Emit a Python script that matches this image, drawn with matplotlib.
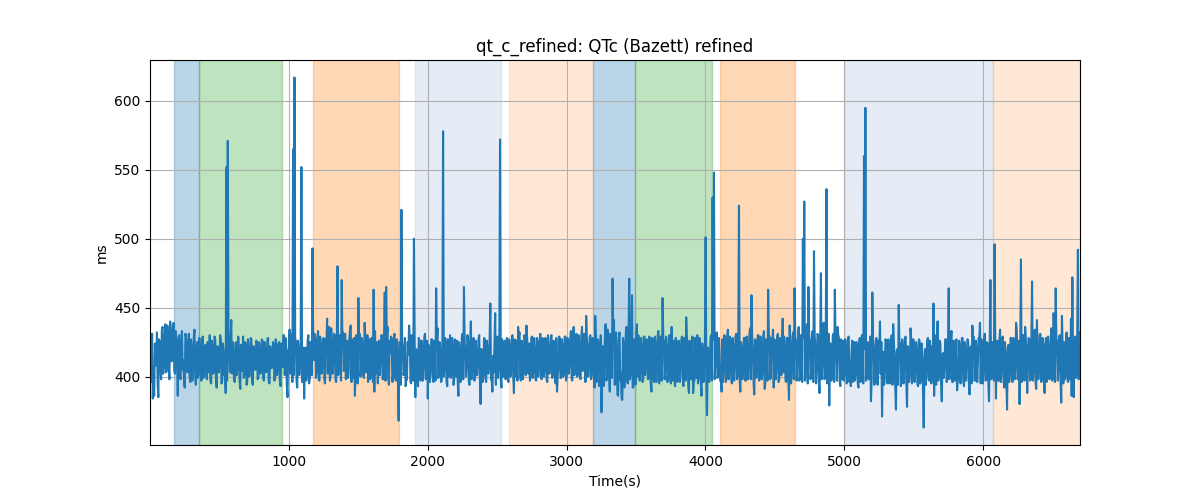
import numpy as np
import matplotlib
matplotlib.use("Agg")
import matplotlib.pyplot as plt

# QTc values (ms), first sample of each 10 s window (t = 1, 11, 21, ... s)
qtc_a_rows = [
    [420, 396, 428, 386, 415, 432, 401, 425, 398, 436, 410, 438, 404, 430, 398, 434, 412, 439, 402, 426],
    [405, 430, 398, 433, 412, 392, 428, 403, 431, 396, 420, 409, 434, 394, 425, 401, 418, 397, 429, 406],
    [423, 398, 416, 430, 395, 421, 404, 427, 392, 418, 408, 426, 397, 419, 405, 424, 393, 415, 428, 402],
    [417, 396, 425, 407, 420, 391, 414, 429, 402, 422, 396, 418, 410, 427, 394, 416, 405, 424, 399, 420],
    [408, 426, 397, 419, 404, 428, 395, 417, 409, 423, 398, 421, 406, 425, 393, 414, 430, 401, 426, 385],
    [420, 402, 431, 415, 398, 425, 392, 419, 410, 428, 396, 384, 421, 405, 430, 398, 423, 383, 412, 427],
    [404, 433, 397, 421, 410, 428, 395, 424, 402, 436, 400, 419, 413, 430, 396, 427, 405, 420, 399, 432],
    [410, 398, 426, 403, 434, 396, 418, 428, 401, 424, 393, 431, 407, 422, 399, 429, 412, 396, 427, 404],
    [421, 400, 433, 409, 395, 426, 414, 430, 398, 420, 405, 436, 394, 417, 427, 402, 431, 397, 419, 368],
    [425, 388, 420, 404, 433, 398, 416, 429, 395, 422, 408, 385, 419, 401, 426, 397, 421, 411, 431, 399],
    [384, 418, 405, 427, 396, 423, 410, 432, 402, 419, 397, 428, 406, 424, 393, 417, 430, 401, 422, 398],
    [414, 426, 386, 420, 403, 431, 397, 418, 409, 425, 394, 421, 405, 428, 399, 416, 411, 430, 380, 419],
    [402, 427, 396, 420, 408, 433, 398, 415, 425, 394, 429, 405, 419, 392, 423, 410, 398, 428, 396, 421],
    [405, 430, 399, 418, 426, 401, 432, 397, 420, 409, 427, 395, 416, 424, 400, 429, 404, 419, 397, 425],
    [410, 431, 398, 421, 405, 427, 396, 418, 412, 430, 401, 424, 395, 419, 407, 428, 399, 422, 404, 429],
    [400, 426, 411, 433, 397, 420, 406, 431, 402, 424, 398, 436, 408, 427, 395, 421, 412, 430, 401, 425],
    [392, 428, 404, 421, 399, 374, 422, 410, 438, 399, 430, 389, 425, 407, 441, 396, 419, 386, 432, 403],
    [383, 424, 409, 436, 395, 428, 402, 420, 392, 417, 431, 400, 426, 406, 421, 397, 429, 411, 423, 399],
    [418, 404, 427, 396, 422, 412, 433, 399, 420, 389, 425, 408, 419, 402, 430, 395, 416, 426, 401, 423],
    [398, 421, 410, 429, 393, 418, 406, 424, 388, 420, 403, 427, 397, 416, 430, 400, 422, 386, 417, 409],
    [426, 372, 419, 405, 430, 398, 423, 412, 432, 401, 418, 396, 427, 408, 421, 399, 434, 404, 425, 395],
    [420, 410, 431, 400, 424, 389, 419, 406, 428, 397, 422, 413, 435, 402, 418, 394, 426, 409, 430, 399],
    [423, 405, 433, 396, 419, 411, 429, 401, 425, 392, 420, 408, 431, 398, 416, 427, 403, 422, 396, 428],
    [383, 419, 407, 432, 398, 424, 414, 436, 400, 428, 392, 421, 410, 438, 386, 426, 405, 433, 397, 420],
    [409, 430, 395, 425, 412, 439, 399, 421, 407, 379, 424, 402, 431, 396, 418, 411, 428, 393, 416, 426],
    [404, 421, 398, 429, 410, 417, 396, 425, 403, 419, 392, 428, 407, 423, 384, 426, 400, 418, 412, 431],
    [397, 420, 406, 428, 394, 416, 402, 371, 418, 409, 425, 395, 421, 404, 430, 399, 414, 376, 420, 407],
    [424, 396, 418, 410, 429, 378, 416, 403, 427, 398, 421, 407, 419, 393, 426, 401, 417, 363, 420, 405],
    [428, 397, 415, 422, 402, 430, 394, 419, 408, 424, 382, 417, 411, 427, 399, 421, 405, 433, 396, 418],
    [409, 426, 398, 420, 404, 428, 393, 416, 411, 425, 387, 422, 403, 429, 397, 418, 410, 427, 395, 421],
    [405, 431, 398, 424, 382, 436, 400, 418, 411, 384, 426, 397, 421, 406, 429, 392, 416, 376, 423, 405],
    [428, 396, 420, 410, 433, 399, 380, 425, 403, 430, 394, 419, 412, 427, 398, 422, 405, 434, 391, 418],
    [409, 431, 397, 424, 388, 428, 403, 419, 412, 435, 399, 421, 393, 426, 406, 430, 381, 418, 425, 400],
    [432, 396, 423, 408, 437, 385, 429, 402, 441, 415],
]

# QTc values (ms), second sample of each 10 s window (t = 6, 16, 26, ... s)
qtc_b_rows = [
    [404, 431, 399, 424, 408, 395, 427, 406, 433, 402, 428, 403, 437, 406, 425, 411, 429, 404, 433, 410],
    [428, 401, 425, 405, 397, 431, 410, 424, 400, 427, 397, 428, 403, 420, 399, 428, 403, 426, 399, 422],
    [400, 425, 403, 397, 426, 402, 429, 398, 422, 403, 430, 395, 424, 401, 428, 397, 427, 403, 399, 425],
    [398, 424, 401, 429, 397, 423, 404, 399, 425, 394, 427, 400, 428, 397, 422, 405, 426, 398, 425, 402],
    [427, 399, 425, 403, 427, 396, 422, 406, 425, 397, 427, 401, 424, 397, 424, 407, 394, 428, 393, 419],
    [397, 426, 396, 401, 428, 397, 426, 401, 428, 396, 421, 415, 397, 426, 395, 425, 401, 420, 431, 399],
    [428, 398, 429, 402, 427, 398, 427, 400, 429, 397, 428, 402, 431, 398, 428, 401, 430, 397, 426, 404],
    [431, 424, 399, 428, 401, 427, 399, 404, 430, 395, 427, 400, 428, 401, 426, 403, 430, 424, 398, 428],
    [396, 429, 402, 425, 423, 401, 430, 398, 429, 397, 428, 399, 426, 429, 396, 428, 399, 427, 396, 425],
    [394, 426, 401, 428, 397, 425, 402, 396, 430, 397, 428, 420, 397, 428, 398, 426, 397, 429, 398, 426],
    [423, 396, 427, 401, 426, 397, 428, 399, 425, 396, 427, 400, 428, 396, 427, 400, 399, 428, 394, 427],
    [400, 397, 425, 396, 429, 398, 426, 400, 430, 397, 425, 398, 427, 397, 426, 401, 427, 398, 420, 396],
    [428, 399, 426, 402, 428, 398, 426, 403, 397, 428, 399, 426, 398, 427, 400, 426, 425, 399, 427, 400],
    [429, 400, 427, 400, 397, 428, 400, 426, 398, 430, 401, 428, 402, 397, 428, 399, 428, 398, 428, 400],
    [427, 399, 428, 400, 428, 398, 430, 402, 428, 399, 426, 398, 428, 400, 429, 399, 427, 400, 429, 397],
    [428, 402, 426, 399, 429, 401, 430, 400, 430, 399, 429, 404, 431, 396, 427, 400, 429, 398, 428, 403],
    [428, 396, 427, 393, 430, 398, 393, 428, 397, 434, 401, 431, 399, 430, 394, 432, 387, 428, 397, 433],
    [428, 392, 431, 397, 430, 398, 429, 392, 427, 394, 398, 430, 397, 428, 396, 429, 401, 427, 398, 429],
    [395, 428, 399, 429, 396, 430, 395, 429, 397, 428, 398, 429, 396, 428, 398, 427, 397, 398, 428, 396],
    [426, 396, 427, 399, 428, 397, 428, 393, 426, 398, 429, 397, 428, 399, 395, 428, 397, 424, 396, 428],
    [398, 421, 396, 428, 397, 427, 398, 429, 399, 428, 397, 428, 396, 430, 396, 428, 398, 429, 396, 428],
    [397, 429, 398, 428, 397, 425, 398, 428, 397, 429, 398, 430, 398, 429, 396, 427, 399, 430, 397, 429],
    [398, 430, 396, 427, 397, 430, 398, 428, 398, 427, 398, 429, 396, 428, 401, 396, 429, 397, 428, 400],
    [420, 395, 429, 398, 429, 397, 430, 397, 430, 396, 428, 397, 432, 395, 429, 398, 431, 396, 430, 395],
    [431, 396, 428, 398, 430, 398, 431, 395, 431, 424, 397, 429, 396, 429, 397, 430, 396, 427, 398, 397],
    [427, 395, 428, 396, 393, 426, 422, 397, 425, 395, 425, 396, 430, 395, 420, 397, 425, 398, 429, 397],
    [426, 394, 427, 395, 426, 394, 425, 410, 394, 427, 396, 427, 395, 428, 394, 426, 393, 418, 394, 425],
    [393, 427, 395, 428, 394, 422, 396, 426, 395, 427, 396, 425, 394, 427, 395, 424, 392, 410, 394, 426],
    [398, 426, 395, 398, 427, 396, 424, 397, 426, 395, 416, 399, 427, 396, 425, 398, 428, 396, 426, 397],
    [427, 397, 426, 395, 428, 396, 425, 397, 427, 396, 420, 395, 428, 397, 426, 396, 428, 396, 427, 395],
    [428, 397, 425, 396, 420, 398, 425, 397, 427, 416, 397, 427, 396, 428, 396, 425, 397, 420, 396, 428],
    [397, 428, 398, 429, 398, 426, 422, 396, 430, 397, 428, 396, 428, 397, 428, 397, 430, 396, 424, 398],
    [430, 396, 428, 397, 422, 396, 429, 398, 429, 397, 428, 396, 427, 397, 429, 396, 421, 395, 398, 431],
    [397, 428, 398, 430, 396, 424, 399, 430, 398, 432],
]

# Minor excursions above / below the main band (time in s, value in ms)
minor_times = [19, 60, 110, 144, 203, 547, 588, 964, 1005, 1276, 1305, 1448, 1477,
               1545, 1616, 1843, 1866, 1930, 2070, 2309, 2466, 2484, 2619, 2650, 2710,
               2930, 3050, 3206, 3398, 3504, 3611, 3755, 3779, 3911, 4115, 4353, 4424,
               4484, 4556, 4604, 4820, 4952, 5189, 5257, 5353, 5477, 5645, 5669, 5813,
               5921, 5978, 6122, 6237, 6302, 6314, 6386, 6506, 6566, 6631, 6638]
minor_values = [384, 385, 438, 440, 386, 388, 441, 430, 434, 442, 435, 437, 386,
                439, 389, 393, 437, 393, 435, 440, 389, 446, 388, 436, 437,
                389, 436, 444, 384, 438, 389, 436, 393, 388, 389, 387, 391,
                434, 442, 437, 388, 436, 382, 440, 438, 435, 386, 440, 390,
                437, 439, 434, 439, 436, 388, 441, 446, 444, 442, 386]

# Isolated spikes (time in s, value in ms)
spike_times = [551, 561, 1031, 1041, 1091, 1171, 1351, 1381, 1501, 1611, 1691, 1701,
               1811, 1901, 2061, 2111, 2261, 2451, 2521, 3141, 3331, 3451, 3471, 3691,
               3861, 4001, 4051, 4061, 4241, 4331, 4451, 4641, 4701, 4711, 4741, 4781,
               4831, 4871, 4931, 5141, 5151, 5201, 5391, 5641, 5751, 6051, 6081, 6271,
               6351, 6521, 6641, 6681]
spike_values = [552, 571, 565, 617, 552, 493, 480, 470, 457, 463, 461, 465,
                521, 500, 464, 578, 465, 453, 572, 444, 471, 471, 459, 457,
                443, 501, 530, 548, 524, 459, 463, 464, 500, 527, 465, 491,
                475, 536, 463, 560, 595, 461, 452, 453, 464, 470, 496, 485,
                469, 464, 472, 492]

# Shaded phases: start s, end s, colour, alpha
phase_starts = [173, 353, 1173, 1906, 2583, 3187, 3496, 4101, 5007, 6072]
phase_ends = [353, 950, 1791, 2525, 3187, 3496, 4050, 4647, 6072, 6696]
phase_colors = ["C0", "C2", "C1", "#7da0d2", "C1", "C0", "C2", "C1", "#7da0d2", "C1"]
phase_alphas = [0.3, 0.3, 0.3, 0.2, 0.17, 0.3, 0.3, 0.3, 0.2, 0.17]

qa = np.array([v for row in qtc_a_rows for v in row], dtype=float)
qb = np.array([v for row in qtc_b_rows for v in row], dtype=float)
ta = 1 + 10 * np.arange(len(qa))
tb = 6 + 10 * np.arange(len(qb))
t = np.column_stack([ta, tb]).ravel()
qtc = np.column_stack([qa, qb]).ravel()
for ts, vs in zip(minor_times + spike_times, minor_values + spike_values):
    qtc[int(np.argmin(np.abs(t - ts)))] = vs

fig, ax = plt.subplots(figsize=(12, 5), dpi=100)
for s, e, c, a in zip(phase_starts, phase_ends, phase_colors, phase_alphas):
    ax.axvspan(s, e, color=c, alpha=a)
ax.plot(t, qtc, color="C0", linewidth=1.5)
ax.set_xlim(t[0], t[-1])
ax.set_title("qt_c_refined: QTc (Bazett) refined")
ax.set_xlabel("Time(s)")
ax.set_ylabel("ms")
ax.grid(True)
fig.savefig("out.png", dpi=100)
